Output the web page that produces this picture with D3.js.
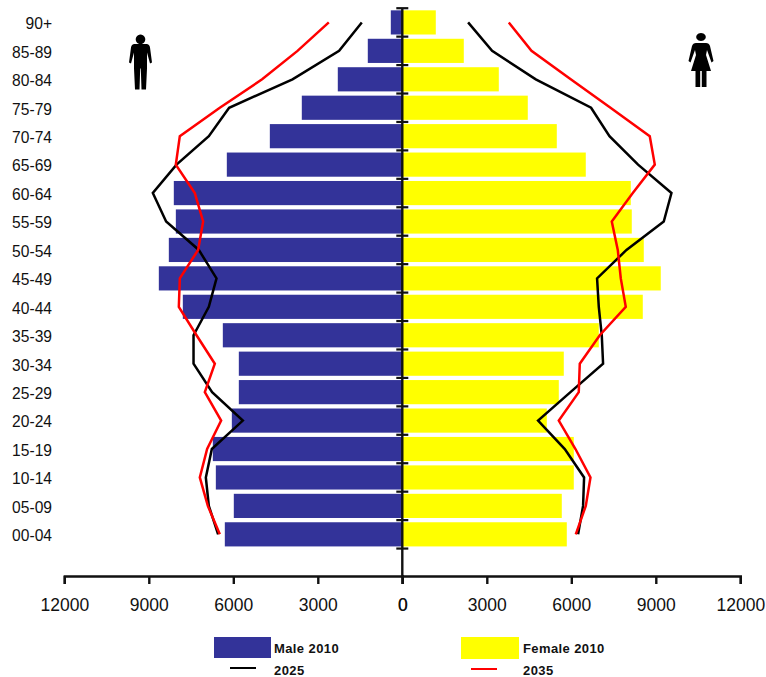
<!DOCTYPE html>
<html><head><meta charset="utf-8">
<script src="https://cdnjs.cloudflare.com/ajax/libs/d3/7.8.5/d3.min.js"></script>
<style>
html,body{margin:0;padding:0;background:#fff}
svg{display:block}
text{font-family:"Liberation Sans",Arial,sans-serif;fill:#111}
</style></head><body><div id="chart"></div>
<script>
const ageGroups=["90+","85-89","80-84","75-79","70-74","65-69","60-64","55-59","50-54","45-49","40-44","35-39","30-34","25-29","20-24","15-19","10-14","05-09","00-04"];
const male2010=[408,1225,2290,3568,4703,6230,8112,8040,8289,8644,7792,6372,5804,5804,6052,6727,6620,5982,6301];
const female2010=[1189,2183,3426,4455,5485,6514,8112,8147,8573,9176,8538,6976,5733,5556,5130,6088,6088,5662,5840];
const male2025=[1438,2243,3898,6148,6869,8016,8857,8385,7224,6596,6869,7412,7412,6752,5662,6762,6975,6869,6539];
const female2025=[2336,3188,4739,6702,7355,8371,9556,9283,7959,6915,6976,7082,7128,5970,4821,5769,6454,6418,6241];
const male2035=[2609,3720,4977,6479,7899,8041,7366,7071,7249,7899,7934,7306,6656,7011,6432,6929,7189,6904,6479];
const female2035=[3781,4586,5980,7391,8786,8964,8183,7437,7650,7757,7934,7011,6301,6265,5556,6148,6681,6514,6159];
const xTicks=[0,3000,6000,9000,12000];

const W=766,H=677,axisY=576,BLUE="#333399",YELLOW="#ffff00",RED="#ff0000";
const svg=d3.select("#chart").append("svg").attr("width",W).attr("height",H).attr("viewBox",[0,0,W,H]);

const xL=d3.scaleLinear().domain([0,12000]).range([402.3,64.3]);
const xR=d3.scaleLinear().domain([0,12000]).range([402.3,740.3]);
const y=d3.scaleBand().domain([...ageGroups,"blank"]).range([8.2,577]).paddingInner(0.15).paddingOuter(0.075);
const yC=d=>y(d)+y.bandwidth()/2;

// bars
svg.append("g").selectAll("rect").data(ageGroups).join("rect")
  .attr("x",(d,i)=>xL(male2010[i])).attr("y",d=>y(d))
  .attr("width",(d,i)=>xL(0)-xL(male2010[i])).attr("height",y.bandwidth()).attr("fill",BLUE);
svg.append("g").selectAll("rect").data(ageGroups).join("rect")
  .attr("x",xR(0)).attr("y",d=>y(d))
  .attr("width",(d,i)=>xR(female2010[i])-xR(0)).attr("height",y.bandwidth()).attr("fill",YELLOW);

// horizontal axes
function styleAxis(g){
  g.select(".domain").attr("stroke","#111").attr("stroke-width",2.4);
  g.selectAll(".tick line").attr("stroke","#111").attr("stroke-width",2.4);
  g.selectAll(".tick text").attr("font-size",17.5).attr("fill","#111").attr("font-family",'"Liberation Sans",Arial,sans-serif');
}
const axL=d3.axisBottom(xL).tickValues(xTicks).tickSize(8).tickSizeOuter(8).tickPadding(15).tickFormat(d3.format("d"));
const axR=d3.axisBottom(xR).tickValues(xTicks).tickSize(8).tickSizeOuter(8).tickPadding(15).tickFormat(d3.format("d"));
svg.append("g").attr("transform",`translate(0,${axisY})`).call(axL).call(styleAxis);
svg.append("g").attr("transform",`translate(0,${axisY})`).call(axR).call(styleAxis);

// vertical axis with tick marks crossing it
const yVals=[...ageGroups,"blank"];
const tickY=d=>y(d)-y.step()*0.075;
svg.append("line").attr("x1",xL(0)).attr("x2",xL(0)).attr("y1",tickY(yVals[0])).attr("y2",axisY).attr("stroke","#111").attr("stroke-width",2.4);
svg.append("g").selectAll("line").data(yVals).join("line")
  .attr("x1",xL(0)-6).attr("x2",xL(0)+6).attr("y1",tickY).attr("y2",tickY).attr("stroke","#111").attr("stroke-width",2.2);

// age labels
svg.append("g").selectAll("text").data(ageGroups).join("text")
  .attr("x",52).attr("y",d=>yC(d)+1.2).attr("dy","0.36em").attr("text-anchor","end").attr("font-size",15.6).text(d=>d);

// projection lines
const line=(scale,vals)=>d3.line().x((d,i)=>scale(vals[i])).y(d=>yC(d))(ageGroups);
[[xL,male2025,"#000"],[xR,female2025,"#000"],[xL,male2035,RED],[xR,female2035,RED]].forEach(([s,v,c])=>{
  svg.append("path").attr("d",line(s,v)).attr("fill","none").attr("stroke",c).attr("stroke-width",2.5);
});

// legend
const lg=svg.append("g");
lg.append("rect").attr("x",214).attr("y",637).attr("width",57).attr("height",21).attr("fill",BLUE);
lg.append("rect").attr("x",461).attr("y",637).attr("width",58).attr("height",22).attr("fill",YELLOW);
lg.append("line").attr("x1",230).attr("x2",256).attr("y1",668).attr("y2",668).attr("stroke","#000").attr("stroke-width",2);
lg.append("line").attr("x1",471).attr("x2",497).attr("y1",669).attr("y2",669).attr("stroke",RED).attr("stroke-width",2);
[["Male 2010",274,653],["2025",274,675],["Female 2010",523,653],["2035",523,675]].forEach(([t,x,yy])=>{
  lg.append("text").attr("x",x).attr("y",yy).attr("font-size",13).attr("letter-spacing",0.4).attr("font-weight","bold").text(t);
});

// person pictograms
const man="M0,0 a4.8,4.8 0 1,1 -0.01,0 Z M-6,9.5 L6,9.5 Q9,9.5 9.5,13 L11.5,28 L9.5,29 L6.5,18 L6.5,34 L5.5,55 L1,55 L0.3,34 L-0.3,34 L-1,55 L-5.5,55 L-6.5,34 L-6.5,18 L-9.5,29 L-11.5,28 L-9.5,13 Q-9,9.5 -6,9.5 Z";
const woman="M0,0 a4.8,4 0 1,1 -0.01,0 Z M-5,10 L5,10 Q8,10 9,13 L12.5,28 L10.5,29.5 L6,17 L5,22 L10,38 L5.5,38 L5.5,54 L0.8,54 L0.8,38 L-0.8,38 L-0.8,54 L-5.5,54 L-5.5,38 L-10,38 L-5,22 L-6,17 L-10.5,29.5 L-12.5,28 L-9,13 Q-8,10 -5,10 Z";
svg.append("path").attr("d",man).attr("transform","translate(140.5,34.5)").attr("fill","#000");
svg.append("path").attr("d",woman).attr("transform","translate(701,33)").attr("fill","#000");
</script></body></html>
